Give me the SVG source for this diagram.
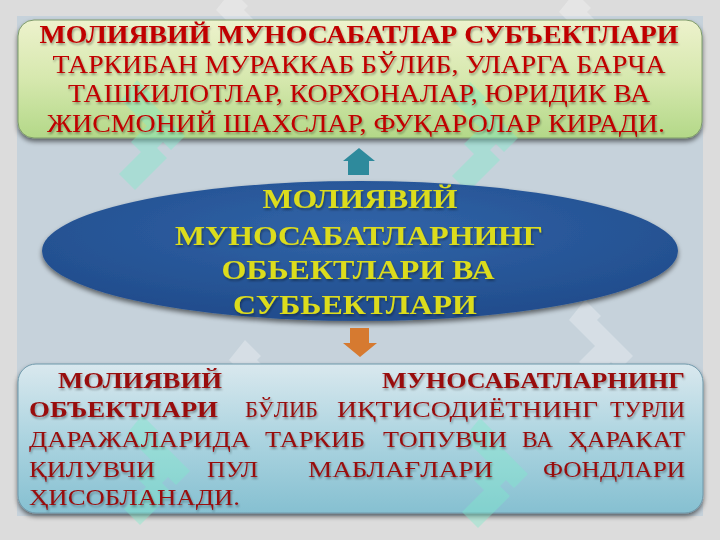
<svg xmlns="http://www.w3.org/2000/svg" width="720" height="540" viewBox="0 0 720 540">
  <defs>
    <style>
      .serif { font-family: "Liberation Serif", "Times New Roman", serif; }
      .top-txt { font-size: 25px; fill: #C00000; text-anchor: middle; }
      .mid-txt { font-size: 28px; font-weight: bold; fill: #DCDC1E; text-anchor: middle; }
      .bot-txt { font-size: 24px; fill: #981010; }
      .b { font-weight: bold; }
      .wm-green { fill: #7EEBCB; opacity: 0.4; }
      .wm-white { fill: #FFFFFF; opacity: 0.28; }
    </style>
    <linearGradient id="gTop" x1="0" y1="0" x2="0" y2="1">
      <stop offset="0" stop-color="#EDF2CC"/>
      <stop offset="0.5" stop-color="#D6E8AE"/>
      <stop offset="1" stop-color="#B3D888"/>
    </linearGradient>
    <linearGradient id="gBot" x1="0" y1="0" x2="0" y2="1">
      <stop offset="0" stop-color="#D9E8EE"/>
      <stop offset="0.5" stop-color="#ACD4E0"/>
      <stop offset="1" stop-color="#86C0D1"/>
    </linearGradient>
    <radialGradient id="gEll" cx="0.5" cy="0.35" r="0.6">
      <stop offset="0" stop-color="#3164A8"/>
      <stop offset="1" stop-color="#224E8E"/>
    </radialGradient>
    <filter id="shadow" x="-5%" y="-10%" width="110%" height="130%">
      <feGaussianBlur in="SourceAlpha" stdDeviation="2.5"/>
      <feOffset dx="0" dy="3" result="o"/>
      <feComponentTransfer><feFuncA type="linear" slope="0.55"/></feComponentTransfer>
      <feMerge><feMergeNode/><feMergeNode in="SourceGraphic"/></feMerge>
    </filter>
    <filter id="tshadow" x="-5%" y="-20%" width="110%" height="150%">
      <feGaussianBlur in="SourceAlpha" stdDeviation="0.8"/>
      <feOffset dx="1" dy="1.5" result="o"/>
      <feComponentTransfer><feFuncA type="linear" slope="0.35"/></feComponentTransfer>
      <feMerge><feMergeNode/><feMergeNode in="SourceGraphic"/></feMerge>
    </filter>
    <symbol id="motif" overflow="visible">
      <path d="M0,0 L16,16 L12,20 L36,44 L48,56 L34,70 L26,62 L20,68 L30,78 L-2,110 L-18,94 L4,72 L-6,62 L10,46 L-16,20 Z"/>
    </symbol>
  </defs>

  <!-- background -->
  <rect x="0" y="0" width="720" height="540" fill="#DCDCDC"/>
  <rect x="17" y="16" width="686" height="500" fill="#C6D2DB"/>

  <g id="watermarks-back">
    <use href="#motif" x="232" y="-10" class="wm-white"/>
    <use href="#motif" x="575" y="-8" class="wm-white"/>
    <use href="#motif" x="585" y="300" class="wm-white"/>
    <use href="#motif" x="245" y="340" class="wm-white"/>
  </g>

  <!-- top box -->
  <g id="top-box">
    <rect x="18" y="20" width="684" height="118" rx="16" ry="16" fill="url(#gTop)" stroke="#7E9A6A" stroke-width="1" filter="url(#shadow)"/>
    <use href="#motif" x="137" y="80" class="wm-green"/>
    <use href="#motif" x="470" y="82" class="wm-green"/>
    <g class="serif" filter="url(#tshadow)">
      <text x="359" y="43" class="top-txt b" textLength="639" lengthAdjust="spacingAndGlyphs">МОЛИЯВИЙ МУНОСАБАТЛАР СУБЪЕКТЛАРИ</text>
      <text x="359" y="73" class="top-txt" textLength="613" lengthAdjust="spacingAndGlyphs">ТАРКИБАН МУРАККАБ БЎЛИБ, УЛАРГА БАРЧА</text>
      <text x="359" y="102" class="top-txt" textLength="582" lengthAdjust="spacingAndGlyphs">ТАШКИЛОТЛАР, КОРХОНАЛАР, ЮРИДИК ВА</text>
      <text x="356" y="132" class="top-txt" textLength="618" lengthAdjust="spacingAndGlyphs">ЖИСМОНИЙ ШАХСЛАР, ФУҚАРОЛАР КИРАДИ.</text>
    </g>
  </g>

  <!-- center ellipse -->
  <g id="center-ellipse">
    <ellipse cx="360" cy="251" rx="318" ry="70" fill="url(#gEll)" filter="url(#shadow)"/>
    <g class="serif" filter="url(#tshadow)">
      <text x="360" y="208" class="mid-txt" textLength="195" lengthAdjust="spacingAndGlyphs">МОЛИЯВИЙ</text>
      <text x="359" y="245" class="mid-txt" textLength="368" lengthAdjust="spacingAndGlyphs">МУНОСАБАТЛАРНИНГ</text>
      <text x="358" y="279" class="mid-txt" textLength="273" lengthAdjust="spacingAndGlyphs">ОБЬЕКТЛАРИ ВА</text>
      <text x="355" y="314" class="mid-txt" textLength="244" lengthAdjust="spacingAndGlyphs">СУБЬЕКТЛАРИ</text>
    </g>
  </g>

  <!-- bottom box -->
  <g id="bottom-box">
    <rect x="18" y="364" width="685" height="149" rx="18" ry="18" fill="url(#gBot)" stroke="#6F98AA" stroke-width="1" filter="url(#shadow)"/>
    <use href="#motif" x="142" y="415" class="wm-green"/>
    <use href="#motif" x="480" y="418" class="wm-green"/>
    <g class="serif bot-txt" filter="url(#tshadow)">
      <text x="58" y="388" class="b" textLength="164" lengthAdjust="spacingAndGlyphs">МОЛИЯВИЙ</text>
      <text x="382" y="388" class="b" textLength="303" lengthAdjust="spacingAndGlyphs">МУНОСАБАТЛАРНИНГ</text>
      <text x="29" y="417" class="b" textLength="189" lengthAdjust="spacingAndGlyphs">ОБЪЕКТЛАРИ</text>
      <text x="245" y="417" textLength="73" lengthAdjust="spacingAndGlyphs">БЎЛИБ</text>
      <text x="337" y="417" textLength="261" lengthAdjust="spacingAndGlyphs">ИҚТИСОДИЁТНИНГ</text>
      <text x="610" y="417" textLength="75" lengthAdjust="spacingAndGlyphs">ТУРЛИ</text>
      <text x="29" y="447" textLength="221" lengthAdjust="spacingAndGlyphs">ДАРАЖАЛАРИДА</text>
      <text x="265" y="447" textLength="100" lengthAdjust="spacingAndGlyphs">ТАРКИБ</text>
      <text x="383" y="447" textLength="124" lengthAdjust="spacingAndGlyphs">ТОПУВЧИ</text>
      <text x="522" y="447" textLength="31" lengthAdjust="spacingAndGlyphs">ВА</text>
      <text x="568" y="447" textLength="117" lengthAdjust="spacingAndGlyphs">ҲАРАКАТ</text>
      <text x="29" y="477" textLength="126" lengthAdjust="spacingAndGlyphs">ҚИЛУВЧИ</text>
      <text x="207" y="477" textLength="51" lengthAdjust="spacingAndGlyphs">ПУЛ</text>
      <text x="308" y="477" textLength="185" lengthAdjust="spacingAndGlyphs">МАБЛАҒЛАРИ</text>
      <text x="543" y="477" textLength="142" lengthAdjust="spacingAndGlyphs">ФОНДЛАРИ</text>
      <text x="29" y="505" textLength="211" lengthAdjust="spacingAndGlyphs">ҲИСОБЛАНАДИ.</text>
    </g>
  </g>

  <!-- connectors -->
  <g id="connectors">
    <polygon points="359,148 375,161 369,161 369,175 348,175 348,161 343,161" fill="#2E8A9C"/>
    <polygon points="350,328 369,328 369,343 377,343 360,357 343,343 350,343" fill="#D67A30"/>
  </g>
</svg>
